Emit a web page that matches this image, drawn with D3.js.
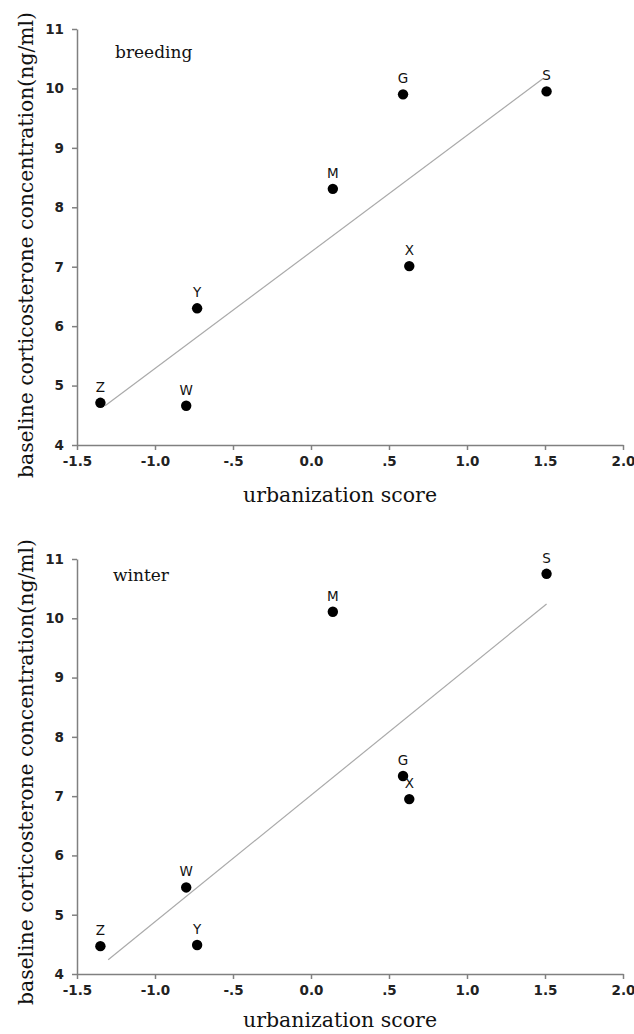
<!DOCTYPE html>
<html>
<head>
<meta charset="utf-8">
<script src="https://cdn.jsdelivr.net/npm/d3@7"></script>
<style>
  body { margin: 0; background: #fff; }
  svg { display: block; }
  .tick text { font-family: "DejaVu Sans", sans-serif; font-weight: bold; font-size: 13.5px; fill: #222; }
  .domain, .tick line { stroke: #808080; stroke-width: 1.5; }
</style>
</head>
<body>
<svg id="chart" width="634" height="1034"></svg>
<script>
// site codes and urbanization scores
const sites = ["Z", "W", "Y", "M", "G", "X", "S"];
const urbanScore = [-1.35, -0.80, -0.73, 0.14, 0.59, 0.63, 1.51];
// baseline corticosterone (ng/ml) per site
const breedingCort = [4.71, 4.66, 6.30, 8.31, 9.90, 7.01, 9.95];
const winterCort = [4.47, 5.46, 4.49, 10.11, 7.34, 6.95, 10.75];
// fitted line end points as drawn
const breedingFit = [[-1.32, 4.66], [1.49, 10.17]];
const winterFit = [[-1.30, 4.24], [1.51, 10.24]];

const xTicks = [-1.5, -1.0, -0.5, 0, 0.5, 1.0, 1.5, 2.0];
const xTickLabels = ["-1.5", "-1.0", "-.5", "0.0", ".5", "1.0", "1.5", "2.0"];
const yTicks = [4, 5, 6, 7, 8, 9, 10, 11];

const svg = d3.select("#chart");

function drawPanel(opt) {
    const x = d3.scaleLinear().domain([-1.5, 2.0]).range([77, 623]);
    const y = d3.scaleLinear().domain([4, 11]).range([opt.bottom, opt.top]);
    const g = svg.append("g");

    // fit line
    g.append("line")
        .attr("x1", x(opt.fit[0][0])).attr("y1", y(opt.fit[0][1]))
        .attr("x2", x(opt.fit[1][0])).attr("y2", y(opt.fit[1][1]))
        .attr("stroke", "#aaa")
        .attr("stroke-width", 1.2);

    g.append("g")
        .attr("transform", `translate(0,${opt.bottom})`)
        .call(d3.axisBottom(x).tickValues(xTicks)
            .tickFormat((d, i) => xTickLabels[i])
            .tickSize(5).tickSizeOuter(0).tickPadding(6));

    g.append("g")
        .attr("transform", "translate(77,0)")
        .call(d3.axisLeft(y).tickValues(yTicks)
            .tickFormat(d3.format("d"))
            .tickSize(5).tickSizeOuter(0).tickPadding(8));

    const pts = sites.map((s, i) => ({ site: s, u: urbanScore[i], c: opt.values[i] }));

    g.selectAll(".dot")
        .data(pts)
        .enter()
        .append("circle")
        .classed("dot", true)
        .attr("cx", d => x(d.u))
        .attr("cy", d => y(d.c))
        .attr("r", 5.2)
        .attr("fill", "#000");

    g.selectAll(".lbl")
        .data(pts)
        .enter()
        .append("text")
        .classed("lbl", true)
        .attr("x", d => x(d.u))
        .attr("y", d => y(d.c) - 11)
        .attr("text-anchor", "middle")
        .style("font-family", "DejaVu Sans, sans-serif")
        .style("font-size", "13.5px")
        .attr("fill", "#111")
        .text(d => d.site);

    // season label
    g.append("text")
        .attr("x", opt.labelX)
        .attr("y", opt.labelY)
        .style("font-family", "DejaVu Serif, serif")
        .style("font-size", "17px")
        .attr("fill", "#111")
        .text(opt.label);

    g.append("text")
        .attr("x", 340)
        .attr("y", opt.xTitleY)
        .attr("text-anchor", "middle")
        .attr("textLength", 194)
        .attr("lengthAdjust", "spacingAndGlyphs")
        .style("font-family", "DejaVu Serif, serif")
        .style("font-size", "20px")
        .attr("fill", "#111")
        .text("urbanization score");

    g.append("text")
        .attr("transform", `translate(33,${opt.yTitleC}) rotate(-90)`)
        .attr("text-anchor", "middle")
        .attr("textLength", 466)
        .attr("lengthAdjust", "spacingAndGlyphs")
        .style("font-family", "DejaVu Serif, serif")
        .style("font-size", "20px")
        .attr("fill", "#111")
        .text("baseline corticosterone concentration(ng/ml)");
}

drawPanel({ top: 29, bottom: 445, values: breedingCort, fit: breedingFit,
    label: "breeding", labelX: 115, labelY: 58, xTitleY: 502, yTitleC: 245 });
drawPanel({ top: 559, bottom: 974, values: winterCort, fit: winterFit,
    label: "winter", labelX: 113, labelY: 581, xTitleY: 1027, yTitleC: 772 });
</script>
</body>
</html>
